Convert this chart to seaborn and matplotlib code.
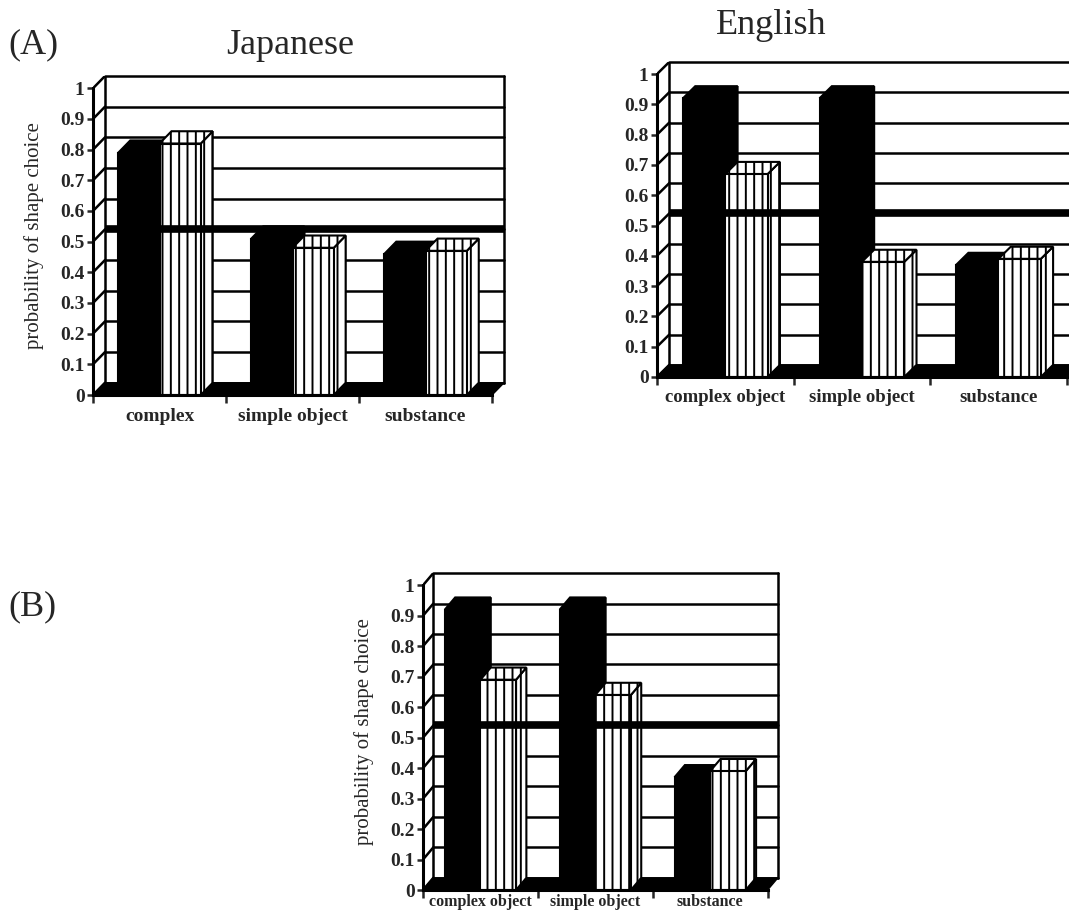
import pandas as pd
import seaborn as sns
import matplotlib.pyplot as plt
from matplotlib.patches import Polygon

sns.set_style("white")
plt.rcParams['font.family'] = ['Liberation Serif', 'DejaVu Serif']
plt.rcParams['hatch.linewidth'] = 1.4

# data
groups = ["solid", "striped"]
jp_cats = ["complex", "simple object", "substance"]
jp_solid = [0.79, 0.51, 0.46]
jp_striped = [0.82, 0.48, 0.47]

en_cats = ["complex object", "simple object", "substance"]
en_solid = [0.92, 0.92, 0.37]
en_striped = [0.67, 0.38, 0.39]

b_cats = ["complex object", "simple object", "substance"]
b_solid = [0.92, 0.92, 0.37]
b_striped = [0.69, 0.64, 0.39]

yticks = [0, 0.1, 0.2, 0.3, 0.4, 0.5, 0.6, 0.7, 0.8, 0.9, 1]
ytick_labels = ["0", "0.1", "0.2", "0.3", "0.4", "0.5", "0.6", "0.7", "0.8", "0.9", "1"]
chance = 0.5

# fake 3D depth (in data units)
dx, dy = 0.09, 0.04


def draw_panel(ax, cats, solid, striped, xlab_size=14, xpad=9, ylabel=None, labelpad=12):
    df = pd.DataFrame({
        "category": cats * 2,
        "prob": solid + striped,
        "group": ["solid"] * len(cats) + ["striped"] * len(cats),
    })
    sns.barplot(data=df, x="category", y="prob", hue="group", hue_order=groups,
                palette=["black", "white"], saturation=1, edgecolor="black",
                linewidth=1.5, width=0.62, legend=False, ax=ax, zorder=3)

    n = len(cats)
    x_left, x_right = -0.5, n - 0.5

    # back wall grid
    for v in yticks:
        ax.plot([x_left + dx, x_right + dx], [v + dy, v + dy], color="black",
                lw=1.8, zorder=1, clip_on=False)
        ax.plot([x_left, x_left + dx], [v, v + dy], color="black", lw=1.8, zorder=1)
    ax.plot([x_left + dx] * 2, [dy, 1 + dy], color="black", lw=1.8, zorder=1)
    ax.plot([x_right + dx] * 2, [dy, 1 + dy], color="black", lw=1.8, zorder=1, clip_on=False)
    # chance line
    ax.plot([x_left + dx, x_right + dx], [chance + dy, chance + dy], color="black",
            lw=5.5, zorder=5, solid_capstyle="butt", clip_on=False)
    # floor
    ax.add_patch(Polygon([(x_left, 0), (x_right, 0), (x_right + dx, dy), (x_left + dx, dy)],
                         closed=True, fc="black", ec="black", lw=1, zorder=2))

    # depth faces for each bar
    for gi, cont in enumerate(ax.containers):
        for p in cont:
            x0, w, h = p.get_x(), p.get_width(), p.get_height()
            fc = "black" if gi == 0 else "white"
            hatch = None if gi == 0 else "||"
            if gi == 1:
                p.set_hatch("||")
            top = [(x0, h), (x0 + w, h), (x0 + w + dx, h + dy), (x0 + dx, h + dy)]
            side = [(x0 + w, 0), (x0 + w + dx, dy), (x0 + w + dx, h + dy), (x0 + w, h)]
            for pts in (side, top):
                ax.add_patch(Polygon(pts, closed=True, fc=fc, ec="black", lw=1.5,
                                     hatch=hatch, zorder=2.5))

    ax.set_xlim(x_left, x_right + dx)
    ax.set_ylim(0, 1 + dy)
    for s in ["top", "right"]:
        ax.spines[s].set_visible(False)
    ax.spines["left"].set_bounds(0, 1)
    ax.spines["bottom"].set_bounds(x_left, x_right)
    for s in ["left", "bottom"]:
        ax.spines[s].set_linewidth(2.2)
        ax.spines[s].set_color("black")
        ax.spines[s].set_zorder(6)

    ax.set_yticks(yticks)
    ax.set_yticklabels(ytick_labels, fontsize=14, fontweight="bold")
    ax.tick_params(axis="y", direction="out", length=4, width=1.8, left=True, pad=2)
    ax.set_xticks(range(n))
    ax.set_xticklabels(cats, fontsize=xlab_size, fontweight="bold")
    ax.set_xticks([x_left + i for i in range(n + 1)], minor=True)
    ax.tick_params(axis="x", which="major", length=0, pad=xpad)
    ax.tick_params(axis="x", which="minor", direction="out", length=6, width=1.8, bottom=True)
    ax.set_xlabel("")
    if ylabel:
        ax.set_ylabel(ylabel, fontsize=15, labelpad=labelpad)
    else:
        ax.set_ylabel("")
    ax.grid(False)


fig = plt.figure(figsize=(10.69, 9.15), dpi=100)

ax_jp = fig.add_axes([0.087, 0.5683, 0.3845, 0.3486])
draw_panel(ax_jp, jp_cats, jp_solid, jp_striped, ylabel="probability of shape choice", labelpad=12)

ax_en = fig.add_axes([0.6146, 0.588, 0.3948, 0.3443])
draw_panel(ax_en, en_cats, en_solid, en_striped, xlab_size=13.5)

ax_b = fig.add_axes([0.3957, 0.0273, 0.332, 0.3464])
draw_panel(ax_b, b_cats, b_solid, b_striped, xlab_size=11.5, xpad=3,
           ylabel="probability of shape choice", labelpad=12)

fig.text(0.008, 1 - 45 / 915, "(A)", fontsize=26, va="center")
fig.text(290 / 1069, 1 - 45 / 915, "Japanese", fontsize=26, ha="center", va="center")
fig.text(771 / 1069, 1 - 25 / 915, "English", fontsize=26, ha="center", va="center")
fig.text(0.008, 1 - 607 / 915, "(B)", fontsize=26, va="center")

fig.savefig("out.png", dpi=100)
